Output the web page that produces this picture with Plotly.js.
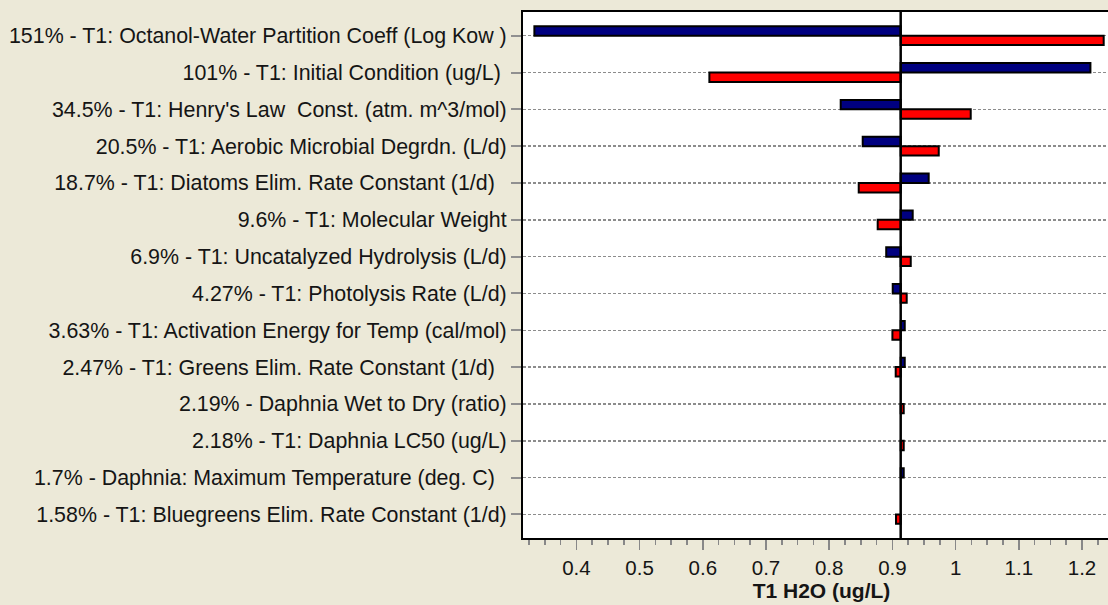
<!DOCTYPE html>
<html>
<head>
<meta charset="utf-8">
<script src="https://cdn.plot.ly/plotly-3.0.1.min.js"></script>
<style>
html, body { margin:0; padding:0; background:#ECE9D8; overflow:hidden; }
#chart { width:1130px; height:605px; }
</style>
</head>
<body>
<div id="chart"></div>
<script>
const categories = [
  "151% - T1: Octanol-Water Partition Coeff (Log Kow )",
  "101% - T1: Initial Condition (ug/L) ",
  "34.5% - T1: Henry's Law  Const. (atm. m^3/mol)",
  "20.5% - T1: Aerobic Microbial Degrdn. (L/d)",
  "18.7% - T1: Diatoms Elim. Rate Constant (1/d)  ",
  "9.6% - T1: Molecular Weight",
  "6.9% - T1: Uncatalyzed Hydrolysis (L/d)",
  "4.27% - T1: Photolysis Rate (L/d)",
  "3.63% - T1: Activation Energy for Temp (cal/mol)",
  "2.47% - T1: Greens Elim. Rate Constant (1/d)  ",
  "2.19% - Daphnia Wet to Dry (ratio)",
  "2.18% - T1: Daphnia LC50 (ug/L)",
  "1.7% - Daphnia: Maximum Temperature (deg. C)  ",
  "1.58% - T1: Bluegreens Elim. Rate Constant (1/d)"
];
const baseline = 0.9131;
const blueValues = [0.3335, 1.2133, 0.8182, 0.853, 0.9574, 0.9321, 0.8902, 0.9005, 0.9195, 0.9195, null, null, 0.9179, null];
const redValues  = [1.2343, 0.6104, 1.0239, 0.9733, 0.8467, 0.8767, 0.929, 0.9226, 0.900, 0.9052, 0.9179, 0.9179, null, 0.9057];
const xTickVals = [0.4, 0.5, 0.6, 0.7, 0.8, 0.9, 1.0, 1.1, 1.2];
const xTickText = ["0.4", "0.5", "0.6", "0.7", "0.8", "0.9", "1", "1.1", "1.2"];
const xTitle = "T1 H2O (ug/L)";

const idx = categories.map((_, i) => i);
const diff = arr => arr.map(v => v === null ? null : v - baseline);

const traces = [
  {
    type: 'bar', orientation: 'h', y: idx, x: diff(blueValues), base: baseline,
    width: 0.255, offset: -0.255,
    marker: { color: '#000080', line: { color: '#000000', width: 2 } },
    hoverinfo: 'skip'
  },
  {
    type: 'bar', orientation: 'h', y: idx, x: diff(redValues), base: baseline,
    width: 0.255, offset: 0,
    marker: { color: '#FF0000', line: { color: '#000000', width: 2 } },
    hoverinfo: 'skip'
  }
];

const layout = {
  width: 1130, height: 605,
  paper_bgcolor: '#ECE9D8', plot_bgcolor: '#FFFFFF',
  margin: { l: 523, r: 10, t: 12, b: 67, pad: 0 },
  showlegend: false,
  barmode: 'overlay',
  font: { family: '"Liberation Sans", Arial, sans-serif', size: 21, color: '#151515' },
  xaxis: {
    range: [0.3155, 1.2601],
    tickvals: xTickVals, ticktext: xTickText,
    ticks: 'outside', ticklen: 10, tickwidth: 1.5, tickcolor: '#888888',
    minor: { dtick: 0.025, tick0: 0, ticks: 'outside', ticklen: 5, tickwidth: 1.5, tickcolor: '#888888', showgrid: false },
    showgrid: false, zeroline: false,
    showline: true, linecolor: '#000000', linewidth: 2, mirror: true,
    tickfont: { size: 20.5, color: '#151515' },
    title: { text: '<b>' + xTitle + '</b>', font: { size: 21, color: '#151515' }, standoff: 6 }
  },
  yaxis: {
    range: [13.64, -0.643],
    tickvals: idx, ticktext: categories,
    ticks: 'outside', ticklen: 10, tickwidth: 2, tickcolor: '#909090',
    showgrid: true, gridcolor: '#8c8c8c', gridwidth: 1.5, griddash: '3px,2px',
    zeroline: false,
    showline: true, linecolor: '#000000', linewidth: 2, mirror: true,
    tickfont: { size: 21.4, color: '#151515' }
  },
  shapes: [
    { type: 'line', xref: 'x', yref: 'paper', x0: baseline, x1: baseline, y0: 0, y1: 1,
      line: { color: '#000000', width: 2.5 } }
  ]
};

Plotly.newPlot('chart', traces, layout, { displayModeBar: false, staticPlot: true });
</script>
</body>
</html>
